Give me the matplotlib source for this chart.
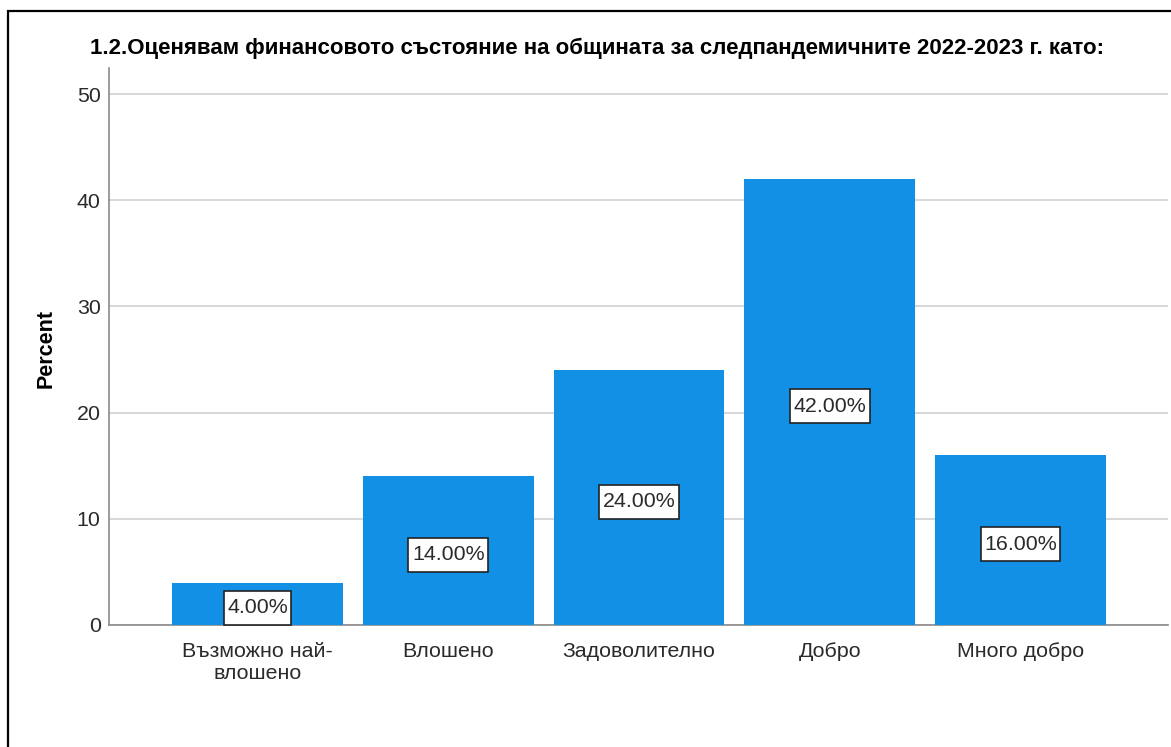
import matplotlib.pyplot as plt
from matplotlib.patches import Rectangle
from matplotlib.transforms import IdentityTransform

plt.rcParams["font.family"] = ["Liberation Sans", "DejaVu Sans"]

categories = ["Възможно най-\nвлошено", "Влошено", "Задоволително", "Добро", "Много добро"]
percent = [4.0, 14.0, 24.0, 42.0, 16.0]
yticks = [0, 10, 20, 30, 40, 50]

BAR_COLOR = "#1190e6"
TEXT_GRAY = "#2a2a2a"
W, H = 1171, 747

fig = plt.figure(figsize=(W / 100, H / 100), dpi=100, facecolor="white")
# outer frame
fig.patches.append(Rectangle((8 / W, -0.1), 1.2, 1.1 - 11 / H, transform=fig.transFigure,
                             fill=False, edgecolor="black", linewidth=1.6))

ax = fig.add_axes([109 / W, 1 - 625 / H, (1168 - 109) / W, (625 - 68) / H])
x = list(range(len(categories)))
ax.bar(x, percent, width=0.896, color=BAR_COLOR, zorder=3)
ax.set_xlim(-0.778, 4.773)
ax.set_ylim(0, 52.45)
ax.set_yticks(yticks)
ax.set_xticks(x)
ax.set_xticklabels(categories, fontsize=15.4, color=TEXT_GRAY, linespacing=1.2)
ax.tick_params(axis="y", labelsize=15.4, labelcolor=TEXT_GRAY, length=0, pad=6)
ax.tick_params(axis="x", length=0, pad=12)
ax.grid(axis="y", color="#d4d4d4", linewidth=1.3, zorder=0)
for s in ["top", "right"]:
    ax.spines[s].set_visible(False)
for s in ["left", "bottom"]:
    ax.spines[s].set_color("#8a8a8a")
    ax.spines[s].set_linewidth(1.2)

# value labels at mid-height, boxed with extra vertical padding
labels = []
for xi, v in zip(x, percent):
    t = ax.annotate(f"{v:.2f}%", (xi, v / 2), xytext=(0, -3), textcoords="offset points",
                    ha="center", va="center", fontsize=15.4, color=TEXT_GRAY, zorder=6)
    labels.append(t)

fig.canvas.draw()
renderer = fig.canvas.get_renderer()
for t in labels:
    bb = t.get_window_extent(renderer)
    cx, cy = (bb.x0 + bb.x1) / 2, (bb.y0 + bb.y1) / 2
    bw, bh = bb.width + 7, 34
    box = Rectangle((cx - bw / 2, cy - bh / 2), bw, bh, transform=IdentityTransform(),
                    facecolor="white", edgecolor="#222222", linewidth=1.2, zorder=5)
    ax.add_artist(box)
    box.set_clip_on(False)

fig.text(46 / W, 1 - 349 / H, "Percent", rotation=90, ha="center", va="center",
         fontsize=15.5, fontweight="bold", color="black")
fig.text(597 / W, 1 - 48 / H,
         "1.2.Оценявам финансовото състояние на общината за следпандемичните 2022-2023 г. като:",
         ha="center", va="center", fontsize=16, fontweight="bold", color="black")

fig.savefig("out.png", dpi=100, facecolor="white")
